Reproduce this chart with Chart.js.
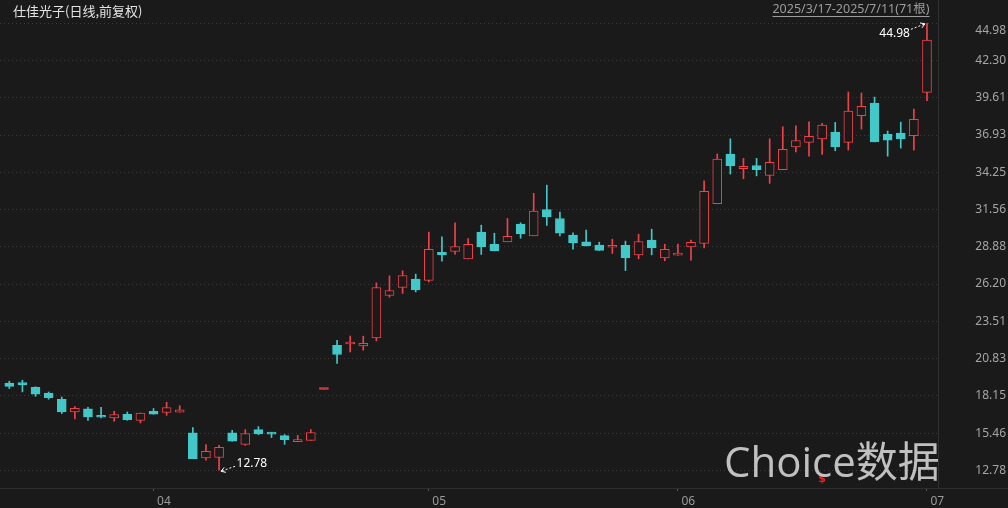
<!DOCTYPE html>
<html><head><meta charset="utf-8">
<script src="https://cdn.jsdelivr.net/npm/chart.js@4/dist/chart.umd.min.js"></script>
<style>html,body{margin:0;padding:0;background:#1a1a1a;overflow:hidden}#wrap{width:1008px;height:508px;position:relative}</style>
</head><body><div id="wrap"><canvas id="c" width="1008" height="508"></canvas></div>
<script>
const stockTitle = '仕佳光子(日线,前复权)';
const rangeText = '2025/3/17-2025/7/11(71根)';
const watermark = 'Choice数据';
const eventMark = '$';
const eventIdx = 62;

const opens  = [19.07,19.10,18.76,18.35,17.90,16.98,17.20,16.72,16.55,16.82,16.38,17.03,16.94,16.96,15.47,13.67,13.70,15.47,14.65,15.71,15.43,15.28,14.85,14.94,18.60,21.79,21.88,21.74,22.32,25.37,25.95,26.55,26.45,28.49,28.54,28.01,29.94,29.05,29.24,30.51,29.67,31.57,30.92,29.72,29.24,29.00,28.85,28.98,28.30,29.36,28.08,28.28,28.88,29.12,31.98,35.56,34.50,34.74,34.02,34.43,36.08,36.40,36.66,37.14,36.40,38.32,39.23,36.99,37.07,36.88,40.01];
const highs  = [19.20,19.27,18.80,18.42,18.06,17.37,17.32,17.32,17.03,16.98,16.91,17.23,17.68,17.44,15.86,14.63,14.58,15.66,15.71,15.93,15.52,15.35,15.30,15.71,18.60,22.15,22.44,22.44,26.28,26.79,27.15,26.91,29.94,29.60,30.61,29.48,30.44,29.86,30.92,30.61,32.73,33.32,31.38,29.89,30.08,29.21,29.43,29.29,29.79,30.15,29.07,29.07,29.36,33.63,35.56,36.66,35.25,35.25,36.66,37.53,37.60,37.89,37.77,37.84,40.03,39.96,39.67,37.22,37.86,38.80,44.98];
const lows   = [18.67,18.43,18.11,17.90,16.87,16.48,16.38,16.56,16.31,16.38,16.19,16.82,16.74,16.96,13.62,13.50,12.78,14.87,14.58,15.35,15.14,14.65,14.85,14.94,18.60,20.47,21.31,21.43,22.10,25.25,25.52,25.63,26.35,27.85,28.35,28.01,28.33,28.59,29.24,29.50,29.67,30.42,29.67,28.71,28.95,28.62,28.40,27.17,28.01,28.30,27.87,28.28,27.92,28.80,31.98,34.12,33.78,33.99,33.45,34.43,35.72,35.41,35.54,35.80,35.85,37.36,36.44,35.41,35.99,35.85,39.40];
const closes = [18.83,18.93,18.26,18.02,16.98,17.25,16.62,16.60,16.80,16.43,16.91,16.82,17.30,17.13,13.62,14.15,14.44,14.87,15.43,15.40,15.38,14.99,14.99,15.50,18.60,21.12,22.01,21.93,25.95,25.73,26.81,25.78,28.69,28.30,28.90,29.05,28.88,28.59,29.63,29.81,31.45,31.04,29.86,29.16,28.95,28.62,28.98,28.08,29.26,28.80,28.69,28.42,29.21,32.87,35.20,34.71,34.67,34.43,34.96,35.90,36.54,36.83,37.65,36.08,38.66,39.00,36.44,36.57,36.66,38.06,43.78];

const monthLabels = ['04','05','06','07'];
const monthStartIdx = [11,32,51,70];
const yTickValues = [12.78,15.46,18.15,20.83,23.51,26.20,28.88,31.56,34.25,36.93,39.61,42.30,44.98];

const BG = '#1a1a1a', RED = '#f2404a', CYAN = '#42c8c8';
const idx = opens.map((_, i) => i);
const isUp = idx.map(i => closes[i] >= opens[i]);
const isFlat = idx.map(i => Math.abs(closes[i] - opens[i]) < 0.005);

const bgPlugin = {
  id: 'bg',
  beforeDraw(chart) {
    const {ctx, width, height} = chart;
    ctx.save();
    ctx.fillStyle = BG;
    ctx.fillRect(0, 0, width, height);
    ctx.restore();
  },
  afterDraw(chart) {
    const {ctx, chartArea} = chart;
    ctx.save();
    ctx.strokeStyle = '#2e2e2e';
    ctx.lineWidth = 1;
    ctx.beginPath();
    ctx.moveTo(chartArea.right, Math.round(chartArea.bottom) + 0.5);
    ctx.lineTo(chart.width, Math.round(chartArea.bottom) + 0.5);
    ctx.stroke();
    ctx.restore();
  }
};

function arrow(ctx, x1, y1, x2, y2) {
  ctx.save();
  ctx.strokeStyle = '#ffffff';
  ctx.lineWidth = 1;
  ctx.setLineDash([2, 2]);
  ctx.beginPath(); ctx.moveTo(x1, y1); ctx.lineTo(x2, y2); ctx.stroke();
  ctx.setLineDash([]);
  const a = Math.atan2(y2 - y1, x2 - x1), L = 5;
  ctx.beginPath();
  ctx.moveTo(x2 - L * Math.cos(a - 0.55), y2 - L * Math.sin(a - 0.55));
  ctx.lineTo(x2, y2);
  ctx.lineTo(x2 - L * Math.cos(a + 0.55), y2 - L * Math.sin(a + 0.55));
  ctx.stroke();
  ctx.restore();
}

const textPlugin = {
  id: 'texts',
  afterDraw(chart) {
    const {ctx, scales: {x, y}} = chart;
    ctx.save();
    ctx.font = '13px "Noto Sans CJK SC", sans-serif';
    ctx.fillStyle = '#e4e4e4';
    ctx.textAlign = 'left'; ctx.textBaseline = 'middle';
    ctx.fillText(stockTitle, 13, 11);

    ctx.font = '12.5px "Noto Sans", "Noto Sans CJK SC", sans-serif';
    ctx.fillStyle = '#9c9c9c';
    ctx.textAlign = 'right';
    ctx.fillText(rangeText, 929.5, 9.5);
    const w = ctx.measureText(rangeText).width;
    ctx.strokeStyle = '#9c9c9c'; ctx.lineWidth = 1;
    ctx.beginPath(); ctx.moveTo(929.5 - w, 16.5); ctx.lineTo(929.5, 16.5); ctx.stroke();

    const maxV = Math.max(...highs), maxI = highs.indexOf(maxV);
    const minV = Math.min(...lows), minI = lows.indexOf(minV);
    let px = x.getPixelForValue(maxI), py = y.getPixelForValue(maxV);
    arrow(ctx, px - 16, py + 6, px - 2, py + 0.5);
    ctx.font = '12px "Noto Sans", sans-serif';
    ctx.fillStyle = '#ffffff';
    ctx.textAlign = 'right'; ctx.textBaseline = 'middle';
    ctx.fillText(maxV.toFixed(2), px - 17, py + 10.5);
    px = x.getPixelForValue(minI); py = y.getPixelForValue(minV);
    arrow(ctx, px + 16, py - 4, px + 2, py + 1);
    ctx.textAlign = 'left';
    ctx.fillText(minV.toFixed(2), px + 17.5, py - 7);

    ctx.font = 'bold 11px "DejaVu Sans", sans-serif';
    ctx.fillStyle = '#e8232e';
    ctx.textAlign = 'center'; ctx.textBaseline = 'middle';
    ctx.fillText(eventMark, x.getPixelForValue(eventIdx), 479);

    ctx.font = '42px "Open Sans", "Noto Sans CJK SC", sans-serif';
    ctx.fillStyle = 'rgba(206,206,206,0.92)';
    ctx.textAlign = 'left'; ctx.textBaseline = 'alphabetic';
    ctx.fillText(watermark, 724, 477);
    ctx.restore();
  }
};

new Chart(document.getElementById('c'), {
  type: 'bar',
  data: {
    datasets: [
      {
        label: 'body',
        data: idx.map(i => ({x: i, y: [opens[i], closes[i]]})),
        backgroundColor: idx.map(i => isFlat[i] ? RED : (isUp[i] ? BG : CYAN)),
        borderColor: isUp.map(u => u ? RED : CYAN),
        borderWidth: 1,
        borderSkipped: false,
        barThickness: 9,
        minBarLength: 2,
        grouped: false,
        order: 1
      },
      {
        label: 'wick',
        data: idx.map(i => ({x: i, y: [lows[i], highs[i]]})),
        backgroundColor: isUp.map(u => u ? RED : CYAN),
        borderWidth: 0,
        barThickness: 1,
        grouped: false,
        order: 2
      }
    ]
  },
  options: {
    responsive: false,
    animation: false,
    devicePixelRatio: 1,
    layout: {padding: {left: 0, top: 0, right: 2, bottom: 0}},
    plugins: {legend: {display: false}, tooltip: {enabled: false}, title: {display: false}},
    scales: {
      x: {
        type: 'linear',
        min: -0.71, max: 70.84,
        offset: false,
        grid: {offset: false, drawOnChartArea: false, drawTicks: true, tickLength: 3, tickColor: '#555', color: '#555'},
        border: {display: true, color: '#2e2e2e'},
        ticks: {
          autoSkip: false, maxRotation: 0, minRotation: 0,
          align: 'start', labelOffset: 3.5, padding: 3,
          color: '#9a9a9a',
          font: {family: '"Noto Sans", sans-serif', size: 12},
          callback: (v, i) => monthLabels[i]
        },
        afterBuildTicks: s => { s.ticks = monthStartIdx.map(v => ({value: v})); },
        afterFit: s => { s.height = 20; s.paddingLeft = 0; s.paddingRight = 0; }
      },
      y: {
        position: 'right',
        min: 11.504, max: 46.66,
        grid: {offset: false, color: '#3c3c3c', drawTicks: false, lineWidth: 1},
        border: {display: true, color: '#2e2e2e', dash: [1, 3]},
        ticks: {
          crossAlign: 'far', padding: 0,
          color: '#a5a5a5',
          font: {family: '"Noto Sans", sans-serif', size: 12},
          callback: v => {
            const s = Number(v).toFixed(2);
            return v === yTickValues[yTickValues.length - 1] ? ['', s] : s;
          }
        },
        afterBuildTicks: s => { s.ticks = yTickValues.map(v => ({value: v})); },
        afterFit: s => { s.width = 68; s.paddingTop = 0; s.paddingBottom = 0; }
      }
    }
  },
  plugins: [bgPlugin, textPlugin]
});
</script>
</body></html>
